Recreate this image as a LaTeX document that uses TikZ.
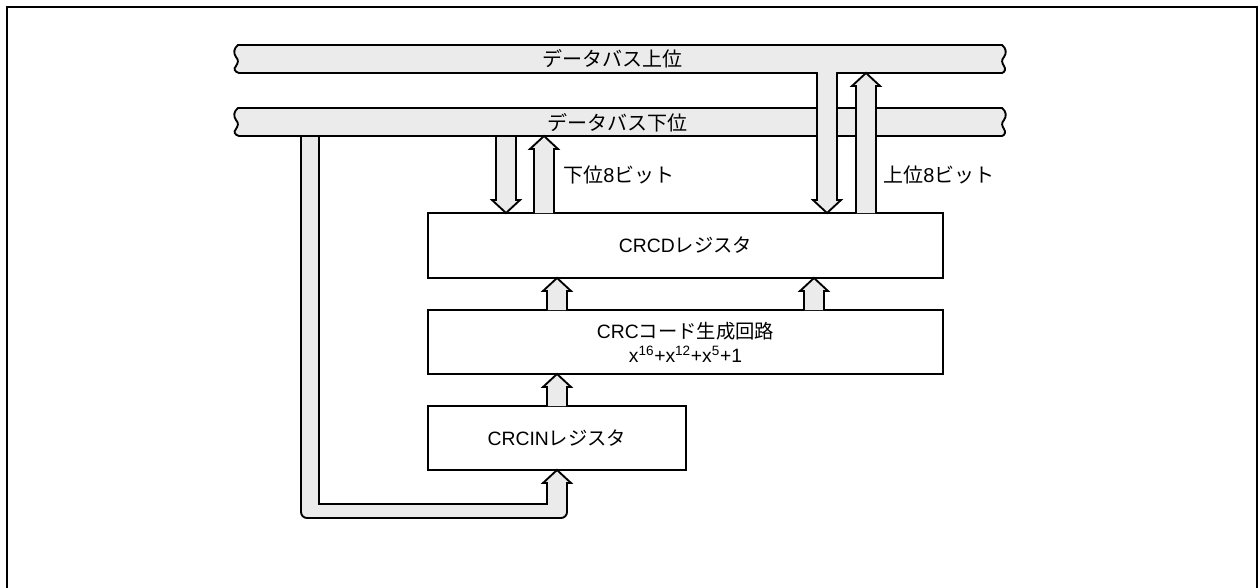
\documentclass[tikz,border=0pt]{standalone}
\usepackage{fontspec}
\setmainfont{Liberation Sans}
\newfontfamily\jp{Noto Sans CJK JP}
\usetikzlibrary{calc}
\definecolor{busgray}{HTML}{EBEBEB}
\tikzset{
  x=0.75pt, y=-0.75pt,
  ln/.style={line width=1.4pt, line join=miter},
  barrow/.style={ln, fill=busgray},
  regbox/.style={draw, line width=1.4pt, fill=white, inner sep=0pt, outer sep=0pt},
  lbl/.style={font=\fontsize{14.5}{17}\selectfont, inner sep=0pt},
  jplbl/.style={font=\fontsize{15}{17}\selectfont\jp, inner sep=0pt},
}
% up block arrow: #1 tip, #2 length (px)
\newcommand\upblk[2]{%
  \filldraw[barrow] ([shift={(-10,#2)}]#1) -- ([shift={(-10,13)}]#1) -- ([shift={(-14,13)}]#1) -- (#1)
    -- ([shift={(14,13)}]#1) -- ([shift={(10,13)}]#1) -- ([shift={(10,#2)}]#1);}
% down block arrow: #1 tip, #2 length (px)
\newcommand\dnblk[2]{%
  \filldraw[barrow] ([shift={(-10,-#2)}]#1) -- ([shift={(-10,-13)}]#1) -- ([shift={(-14,-13)}]#1) -- (#1)
    -- ([shift={(14,-13)}]#1) -- ([shift={(10,-13)}]#1) -- ([shift={(10,-#2)}]#1);}
% data bus with wavy ends: #1 top y
\newcommand\databus[1]{%
  \filldraw[ln, fill=busgray, shift={(0,#1)}]
  (238,0) -- (1002,0)
  .. controls (1006,3) and (1007,8) .. (1004,12)
  .. controls (1001,15) and (1002,18) .. (1004,21)
  .. controls (1006,24) and (1005,27) .. (1002,28)
  -- (239,28)
  .. controls (235,27) and (233,24) .. (236,21)
  .. controls (238,18) and (239,15) .. (236,12)
  .. controls (233,8) and (234,3) .. (238,0) -- cycle;}
\begin{document}
\begin{tikzpicture}
\useasboundingbox (0,0) rectangle (1259,588);
% outer frame
\draw[line width=1.5pt] (7,589) -- (7,7) -- (1257,7) -- (1257,589);

% upper data bus
\databus{45}
\node[jplbl] (busH) at (612,59) {データバス上位};

% lower data bus
\databus{108}
\node[jplbl] (busL) at (617,123) {データバス下位};

% registers
\node[regbox, minimum width=386.25pt, minimum height=48.75pt] (crcd) at (685.5,245.5) {};
\node[lbl] (crcdlbl) at (crcd.center) {CRCD{\jp レジスタ}};
\node[regbox, minimum width=386.25pt, minimum height=48pt] (gen) at (685.5,342) {};
\node[lbl, align=center] (genlbl) at (gen.center) {CRC{\jp コード生成回路}\\[1pt] x\textsuperscript{16}+x\textsuperscript{12}+x\textsuperscript{5}+1};
\node[regbox, minimum width=193.5pt, minimum height=48pt] (crcin) at (557,438) {};
\node[lbl] (crcinlbl) at (crcin.center) {CRCIN{\jp レジスタ}};

% left feedback bus from lower data bus to CRCIN
\coordinate (fbtip) at (crcin.south);
\filldraw[barrow]
  (301,136) -- (301,512) arc[start angle=180, end angle=90, radius=6] -- (561,518)
  arc[start angle=90, end angle=0, radius=6]
  -- ([shift={(10,13)}]fbtip) -- ([shift={(14,13)}]fbtip) -- (fbtip)
  -- ([shift={(-14,13)}]fbtip) -- ([shift={(-10,13)}]fbtip)
  -- (547,504) -- (319,504) -- (319,136);

% CRCD <-> lower bus (lower 8 bits)
\coordinate (ldn) at ([shift={(78,0)}]crcd.north west);
\coordinate (lup) at ([shift={(116,-77)}]crcd.north west);
\dnblk{ldn}{77}
\upblk{lup}{77}
\draw[ln] (239,136) -- (1002,136);
\node[jplbl, anchor=west] (lowlbl) at (563,175) {下位{\rmfamily 8}ビット};

% CRCD <-> upper bus (upper 8 bits)
\coordinate (hdn) at ([shift={(399,0)}]crcd.north west);
\coordinate (hup) at ([shift={(438,-140)}]crcd.north west);
\dnblk{hdn}{140}
\fill[busgray] ([shift={(-9.3,-143)}]hdn) rectangle ([shift={(9.3,-137)}]hdn);
\upblk{hup}{140}
\node[jplbl, anchor=west] (uplbl) at (883,175) {上位{\rmfamily 8}ビット};

% generator -> CRCD
\coordinate (g1) at ([shift={(129,0)}]crcd.south west);
\coordinate (g2) at ([shift={(386,0)}]crcd.south west);
\upblk{g1}{32}
\upblk{g2}{32}
% CRCIN -> generator
\coordinate (g3) at ([shift={(129,0)}]gen.south west);
\upblk{g3}{32}
\end{tikzpicture}
\end{document}
